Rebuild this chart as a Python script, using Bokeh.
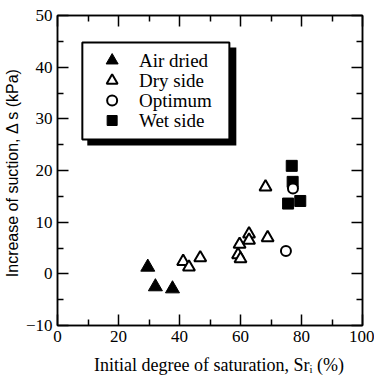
from bokeh.plotting import figure
from bokeh.models import LinearAxis, FixedTicker, Range1d, BoxAnnotation, ColumnDataSource
from bokeh.core.properties import value
from bokeh.embed import file_html
from bokeh.resources import INLINE

# ---- data ----
air_x = [29.6, 32.1, 37.7]
air_y = [1.3, -2.5, -2.9]
dry_x = [41.2, 43.1, 46.8, 59.2, 60.0, 59.7, 62.8, 62.8, 68.2, 68.9]
dry_y = [2.4, 1.3, 3.1, 3.7, 2.9, 5.7, 7.7, 6.5, 16.8, 7.0]
opt_x = [74.9, 77.2]
opt_y = [4.4, 16.5]
wet_x = [76.8, 77.1, 75.6, 79.6]
wet_y = [20.9, 17.8, 13.6, 14.1]

x_ticks = [0, 20, 40, 60, 80, 100]
x_minor = [10, 30, 50, 70, 90]
y_ticks = [-10, 0, 10, 20, 30, 40, 50]
y_minor = [-5, 5, 15, 25, 35, 45]

labels = ["Air dried", "Dry side", "Optimum", "Wet side"]
x_label = "\u00a0\u00a0\u00a0\u00a0Initial degree of saturation, Sr\u1d62 (%)"
y_label = "Increase of suction,  \u0394 s (kPa)"

SERIF = "Liberation Serif"
SANS = "Liberation Sans"

# frame geometry (pixels)
W, H = 374, 378
FL, FR, FT, FB = 55, 362, 15, 325
X0, X1, Y0, Y1 = 0, 100, -10, 50


def dx(px):
    return X0 + (px - FL) * (X1 - X0) / (FR - FL)


def dy(py):
    return Y1 - (py - FT) * (Y1 - Y0) / (FB - FT)


p = figure(width=W, height=H, x_range=Range1d(X0, X1), y_range=Range1d(Y0, Y1),
           output_backend="svg", toolbar_location=None,
           min_border_left=FL, min_border_right=W - FR, min_border_top=FT,
           min_border_bottom=H - FB)
p.grid.visible = False
p.outline_line_color = "black"
p.outline_line_width = 1.5
p.background_fill_color = "white"
p.border_fill_color = "white"


def style_axis(ax, ticks, minor, show_labels):
    ax.ticker = FixedTicker(ticks=ticks, minor_ticks=minor)
    ax.major_tick_in = 11
    ax.major_tick_out = 0
    ax.minor_tick_in = 6
    ax.minor_tick_out = 0
    ax.major_tick_line_width = 1.5
    ax.minor_tick_line_width = 1.5
    ax.axis_line_width = 1.5
    ax.major_tick_line_color = "black"
    ax.minor_tick_line_color = "black"
    ax.axis_line_color = "black"
    if show_labels:
        ax.major_label_text_font = SERIF
        ax.major_label_text_font_size = "17px"
        ax.major_label_text_color = "black"
    else:
        ax.major_label_text_font_size = "1px"
        ax.major_label_text_color = None
        ax.major_label_standoff = 0


xa = p.xaxis[0]
ya = p.yaxis[0]
style_axis(xa, x_ticks, x_minor, True)
style_axis(ya, y_ticks, y_minor, True)
xa.major_label_standoff = 5
ya.major_label_standoff = 5
xa.axis_label = x_label
xa.axis_label_text_font = SERIF
xa.axis_label_text_font_size = "18px"
xa.axis_label_text_font_style = "normal"
xa.axis_label_text_color = "black"
xa.axis_label_standoff = 10
ya.axis_label = y_label
ya.axis_label_text_font = SANS
ya.axis_label_text_font_size = "16px"
ya.axis_label_text_font_style = "normal"
ya.axis_label_text_color = "black"
ya.axis_label_standoff = 2

top = LinearAxis()
style_axis(top, x_ticks, x_minor, False)
p.add_layout(top, "above")
right = LinearAxis()
style_axis(right, y_ticks, y_minor, False)
p.add_layout(right, "right")

# ---- data marks ----
p.scatter(air_x, air_y, marker="triangle", size=14, fill_color="black",
          line_color="black", line_width=1)
p.scatter(dry_x, dry_y, marker="triangle", size=12, fill_color="white",
          line_color="black", line_width=2)
p.scatter(wet_x, wet_y, marker="square", size=11, fill_color="black",
          line_color="black", line_width=1)
p.scatter(opt_x, opt_y, marker="circle", size=10, fill_color="white",
          line_color="black", line_width=2)

# ---- legend: frame with drop shadow, symbols and labels ----
p.add_layout(BoxAnnotation(left=dx(85), right=dx(235), top=dy(47), bottom=dy(145),
                           fill_color="black", fill_alpha=1, line_color=None,
                           level="annotation"))
p.add_layout(BoxAnnotation(left=dx(80), right=dx(228), top=dy(42), bottom=dy(139),
                           fill_color="white", fill_alpha=1, line_color="black",
                           line_alpha=1, line_width=2, level="annotation"))

row_py = [60, 80, 100, 120]
sym_x = dx(110)
txt_x = dx(137)
row_y = [dy(v) for v in row_py]

leg_styles = [
    dict(marker="triangle", size=12, fill_color="black", line_color="black", line_width=1),
    dict(marker="triangle", size=11, fill_color="white", line_color="black", line_width=2),
    dict(marker="circle", size=10, fill_color="white", line_color="black", line_width=2),
    dict(marker="square", size=10, fill_color="black", line_color="black", line_width=1),
]
for yy, st in zip(row_y, leg_styles):
    r = p.scatter([sym_x], [yy], **st)
    r.level = "overlay"

src = ColumnDataSource(dict(x=[txt_x] * len(labels), y=row_y, t=labels))
tr = p.text(x="x", y="y", text="t", source=src, text_font=value(SERIF),
            text_font_size=value("19px"), text_baseline="middle", text_align="left",
            text_color="black")
tr.level = "overlay"

open("out.html", "w").write(file_html(p, INLINE))
